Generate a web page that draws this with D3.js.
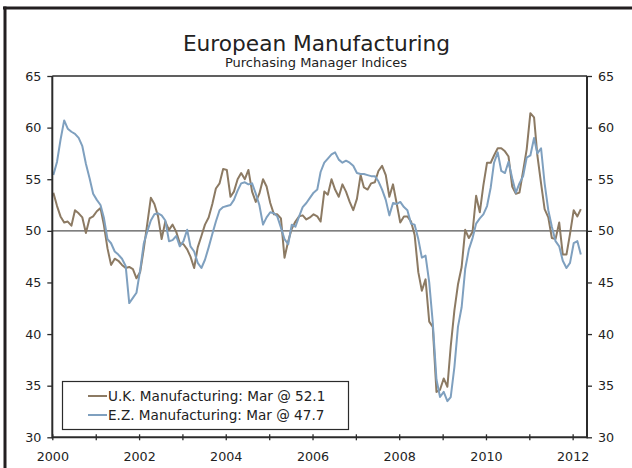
<!DOCTYPE html>
<html>
<head>
<meta charset="utf-8">
<script src="https://cdn.jsdelivr.net/npm/d3@7/dist/d3.min.js"></script>
<style>
  html, body { margin: 0; padding: 0; background: #fff; }
  svg { display: block; font-family: "DejaVu Sans", Verdana, sans-serif; }
</style>
</head>
<body>
<svg id="chart" width="632" height="468"></svg>
<script>
// ---- Data (monthly, Jan 2000 – Mar 2012) ----
const startYear = 2000;
const ukValues = [
  53.7, 52.4, 51.4, 50.8, 50.9, 50.5, 52.0, 51.7, 51.3, 49.8, 51.2, 51.4,
  51.9, 52.2, 50.6, 48.3, 46.7, 47.3, 47.1, 46.7, 46.4, 46.5, 46.3, 45.4,
  46.0, 48.3, 50.6, 53.2, 52.6, 51.4, 49.2, 50.9, 50.1, 50.6, 49.9, 48.8,
  48.7, 48.2, 47.5, 46.4, 48.4, 49.5, 50.6, 51.3, 52.6, 54.1, 54.6, 56.0,
  55.9, 53.3, 53.8, 55.0, 55.6, 55.0, 55.9, 53.8, 52.8, 53.6, 55.0, 54.3,
  52.7, 51.6, 51.6, 51.2, 47.4, 49.0, 50.2, 50.9, 51.4, 51.5, 51.1, 51.3,
  51.6, 51.4, 50.9, 53.8, 53.5, 55.0, 54.0, 53.3, 54.5, 53.8, 52.8, 52.0,
  53.1, 55.4, 54.2, 54.0, 54.6, 54.7, 55.8, 56.3, 55.4, 53.3, 54.5, 52.7,
  50.8, 51.4, 51.4, 50.9, 49.6, 46.0, 44.2, 45.3, 41.2, 40.7, 34.4, 34.6,
  35.7, 34.9, 38.8, 42.3, 44.8, 46.5, 50.1, 49.3, 49.9, 53.4, 51.8, 54.4,
  56.6, 56.6, 57.3, 58.0, 58.0, 57.7, 57.2, 54.3, 53.6, 53.7, 55.8, 57.9,
  61.4, 61.0, 57.3, 54.6, 52.1, 51.3, 49.3, 49.2, 50.8, 47.7, 47.7, 49.7,
  52.0, 51.4, 52.1
];
const ezValues = [
  55.4, 56.7, 58.8, 60.7, 59.9, 59.6, 59.4, 59.0, 58.2, 56.5, 55.1, 53.6,
  53.0, 52.5, 51.3, 49.2, 48.8, 48.0, 47.7, 47.3, 46.6, 43.0, 43.5, 44.0,
  46.2, 48.8, 49.9, 51.0, 51.6, 51.7, 51.5, 51.0, 49.0, 49.1, 49.5, 48.5,
  49.0, 50.1, 48.5, 48.0, 46.9, 46.4, 47.2, 48.4, 49.7, 50.9, 52.0, 52.3,
  52.4, 52.5, 53.0, 53.9, 54.6, 54.7, 54.5, 54.6, 53.6, 52.5, 50.6, 51.3,
  51.8, 51.7, 51.4, 50.3, 49.2, 48.7, 50.6, 50.4, 51.4, 52.3, 52.7, 53.2,
  53.7, 54.0, 55.7, 56.6, 57.0, 57.4, 57.6, 56.9, 56.6, 56.8, 56.6, 56.3,
  55.6, 55.5, 55.5, 55.4, 55.3, 55.3, 54.8, 54.0, 53.0, 51.5, 52.7, 52.6,
  52.8, 52.3, 52.0, 50.7, 50.6, 49.2, 47.4, 47.6, 45.0, 41.1, 35.6, 33.9,
  34.4, 33.5, 33.9, 36.8, 40.7, 42.6, 46.3, 48.2, 49.3, 50.7, 51.2, 51.6,
  52.4, 54.2, 56.6, 57.6, 55.8, 55.6, 56.7, 55.1, 53.7, 54.6, 55.3, 57.1,
  57.3, 59.0, 57.5, 58.0, 54.6, 52.0, 50.4, 49.0, 48.5, 47.1, 46.4, 46.9,
  48.8, 49.0, 47.7
];
const seriesNames = ["U.K. Manufacturing: Mar @ 52.1", "E.Z. Manufacturing: Mar @ 47.7"];
const seriesColors = ["#8c7a63", "#7fa0bf"];
const yTicks = [30, 35, 40, 45, 50, 55, 60, 65];
const xTickYears = [2000, 2001, 2002, 2003, 2004, 2005, 2006, 2007, 2008, 2009, 2010, 2011, 2012];
const referenceLevel = 50;
const titleText = "European Manufacturing";
const subtitleText = "Purchasing Manager Indices";

// ---- Layout ----
const L = 52.3, R = 587, T = 76, B = 437.3;
const svg = d3.select("#chart");
const ink = "#2b2b2b";

const x = d3.scaleTime()
  .domain([new Date(2000, 0, 1), new Date(2012, 4, 1)])
  .range([L, R]);
const y = d3.scaleLinear().domain([30, 65]).range([B, T]);

const toSeries = vals => vals.map((v, i) => ({ date: new Date(startYear, i, 10), v }));
const series = [toSeries(ukValues), toSeries(ezValues)];

// outer frame (partial border)
svg.append("line").attr("x1", 3).attr("x2", 632).attr("y1", 8).attr("y2", 8)
  .attr("stroke", "#231f20").attr("stroke-width", 3);
svg.append("line").attr("x1", 5).attr("x2", 5).attr("y1", 6.5).attr("y2", 468)
  .attr("stroke", "#231f20").attr("stroke-width", 3);

// title
svg.append("text").attr("x", 316.5).attr("y", 51).attr("text-anchor", "middle")
  .attr("font-size", 21.7).attr("fill", "#222").text(titleText);
svg.append("text").attr("x", 316).attr("y", 67).attr("text-anchor", "middle")
  .attr("font-size", 13).attr("fill", "#222").text(subtitleText);

// reference line at 50
svg.append("line").attr("x1", L).attr("x2", R)
  .attr("y1", y(referenceLevel)).attr("y2", y(referenceLevel))
  .attr("stroke", "#555").attr("stroke-width", 1.3);

// series lines
const line = d3.line().x(d => x(d.date)).y(d => y(d.v));
series.forEach((s, i) => {
  svg.append("path").datum(s).attr("d", line)
    .attr("fill", "none").attr("stroke", seriesColors[i])
    .attr("stroke-width", 2).attr("stroke-linejoin", "round");
});

// axes
const leftAxis = d3.axisLeft(y).tickValues(yTicks).tickSize(5).tickPadding(6);
const rightAxis = d3.axisRight(y).tickValues(yTicks).tickSize(5).tickPadding(6);
const bottomAxis = d3.axisBottom(x)
  .tickValues(xTickYears.map(yr => new Date(yr, 0, 1)))
  .tickSize(3).tickPadding(12)
  .tickFormat(d => (d.getFullYear() % 2 === 0 ? d.getFullYear() : ""));

function styleAxis(g) {
  g.select(".domain").remove();
  g.selectAll(".tick line").attr("stroke", ink).attr("stroke-width", 1.3);
  g.selectAll(".tick text").attr("fill", "#222").attr("font-size", 12.7)
    .attr("font-family", "DejaVu Sans, Verdana, sans-serif");
}
svg.append("g").attr("transform", `translate(${L},0)`).call(leftAxis).call(styleAxis);
svg.append("g").attr("transform", `translate(${R},0)`).call(rightAxis).call(styleAxis);
const gx = svg.append("g").attr("transform", `translate(0,${B})`).call(bottomAxis).call(styleAxis);
gx.selectAll(".tick line").attr("y1", -3).attr("y2", 3);

// frame lines
svg.append("line").attr("x1", L).attr("x2", R).attr("y1", T).attr("y2", T)
  .attr("stroke", ink).attr("stroke-width", 1.5);
svg.append("line").attr("x1", L).attr("x2", L).attr("y1", T).attr("y2", B + 1)
  .attr("stroke", ink).attr("stroke-width", 2);
svg.append("line").attr("x1", R).attr("x2", R).attr("y1", T).attr("y2", B + 1)
  .attr("stroke", ink).attr("stroke-width", 2);
svg.append("line").attr("x1", L).attr("x2", R).attr("y1", B).attr("y2", B)
  .attr("stroke", ink).attr("stroke-width", 2);

// legend
const lg = svg.append("g");
lg.append("rect").attr("x", 62.5).attr("y", 381.5).attr("width", 286).attr("height", 48)
  .attr("fill", "#fff").attr("stroke", ink).attr("stroke-width", 1.2);
seriesNames.forEach((name, i) => {
  const yy = 396 + i * 19;
  lg.append("line").attr("x1", 88).attr("x2", 107).attr("y1", yy).attr("y2", yy)
    .attr("stroke", seriesColors[i]).attr("stroke-width", 2);
  lg.append("text").attr("x", 108).attr("y", yy).attr("dy", "0.35em")
    .attr("font-size", 13.6).attr("fill", "#222").text(name);
});
</script>
</body>
</html>
